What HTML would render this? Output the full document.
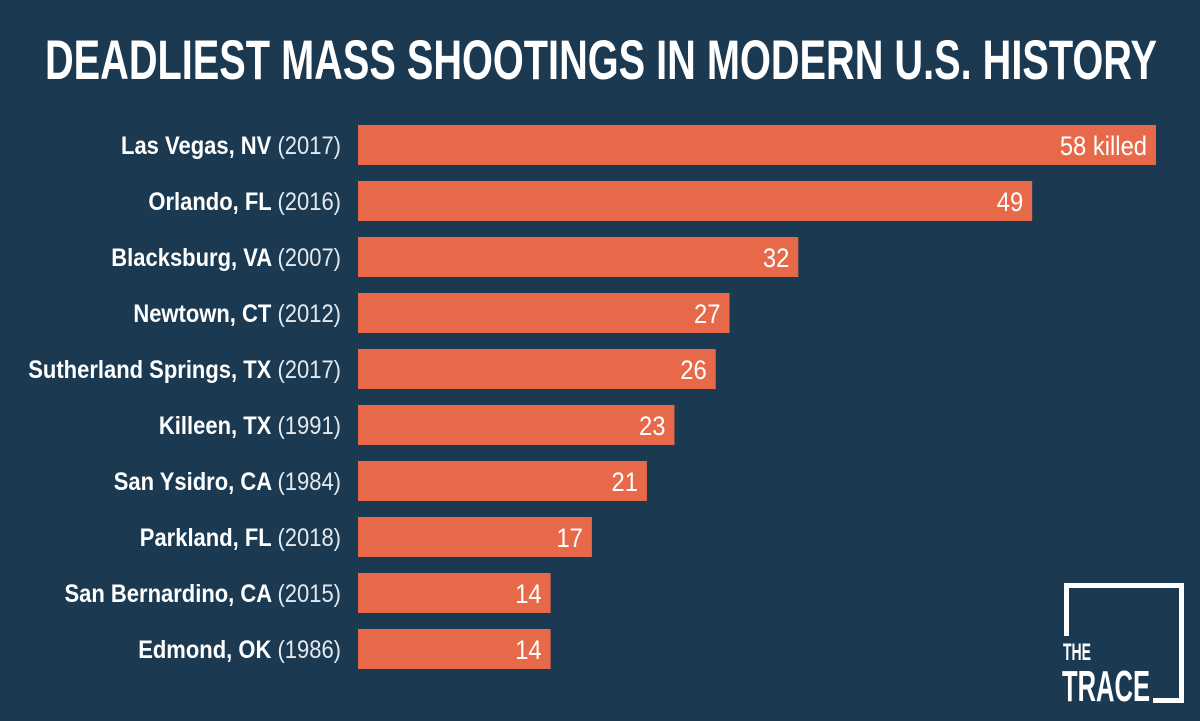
<!DOCTYPE html>
<html><head><meta charset="utf-8"><style>
html,body{margin:0;padding:0;background:#1b3a52;}
svg{display:block}
text{font-family:"Liberation Sans Narrow","Liberation Sans",sans-serif;}
</style></head><body>
<svg id="chart" width="1200" height="721" viewBox="0 0 1200 721">
<rect width="1200" height="721" fill="#1b3a52"/>
<text x="601" y="79" text-anchor="middle" fill="#fff" font-size="56" font-weight="bold" textLength="1112" lengthAdjust="spacingAndGlyphs">DEADLIEST MASS SHOOTINGS IN MODERN U.S. HISTORY</text>
<g id="bars"></g>
<g>
<path d="M1066.5,636 V585.5 H1181.5 V700.5 H1153" fill="none" stroke="#fff" stroke-width="5"/>
<text x="1063" y="660" fill="#fff" font-size="24" font-weight="bold" textLength="28" lengthAdjust="spacingAndGlyphs">THE</text>
<text x="1062" y="701" fill="#fff" font-size="44" font-weight="bold" textLength="88" lengthAdjust="spacingAndGlyphs">TRACE</text>
</g>
</svg>
<script>
const places=["Las Vegas, NV","Orlando, FL","Blacksburg, VA","Newtown, CT","Sutherland Springs, TX","Killeen, TX","San Ysidro, CA","Parkland, FL","San Bernardino, CA","Edmond, OK"];
const years=["2017","2016","2007","2012","2017","1991","1984","2018","2015","1986"];
const killed=[58,49,32,27,26,23,21,17,14,14];
const x0=358, x1=1156, maxV=58;
function xs(v){return x0+(x1-x0)*v/maxV;}
function ys(i){return 125+i*56;}
const NS="http://www.w3.org/2000/svg";
const g=document.getElementById('bars');
killed.forEach((v,i)=>{
  const r=document.createElementNS(NS,'rect');
  
  
  r.setAttribute('x',x0);r.setAttribute('y',ys(i));
  r.setAttribute('width',xs(v)-x0);r.setAttribute('height',40);
  r.setAttribute('fill','#e8694a');
  g.appendChild(r);
  const t=document.createElementNS(NS,'text');
  
  
  t.setAttribute('x',0);t.setAttribute('y',0);
  t.setAttribute('transform','translate('+(xs(v)-9)+','+(ys(i)+30)+') scale(0.88,1)');
  t.setAttribute('text-anchor','end');t.setAttribute('fill','#fff');
  t.setAttribute('font-size','27');
  t.textContent=i===0?v+' killed':String(v);
  g.appendChild(t);
  const l=document.createElementNS(NS,'text');
  
  
  l.setAttribute('x',0);l.setAttribute('y',0);
  l.setAttribute('transform','translate(341,'+(ys(i)+29)+') scale(0.88,1)');
  l.setAttribute('text-anchor','end');l.setAttribute('fill','#fff');
  l.setAttribute('font-size','25');
  const a=document.createElementNS(NS,'tspan');
  a.setAttribute('font-weight','bold');
  a.textContent=places[i]+' ';
  const b=document.createElementNS(NS,'tspan');
  b.setAttribute('fill','#e4e9ee');
  b.textContent='('+years[i]+')';
  l.appendChild(a);l.appendChild(b);
  g.appendChild(l);
});
</script>
</body></html>
